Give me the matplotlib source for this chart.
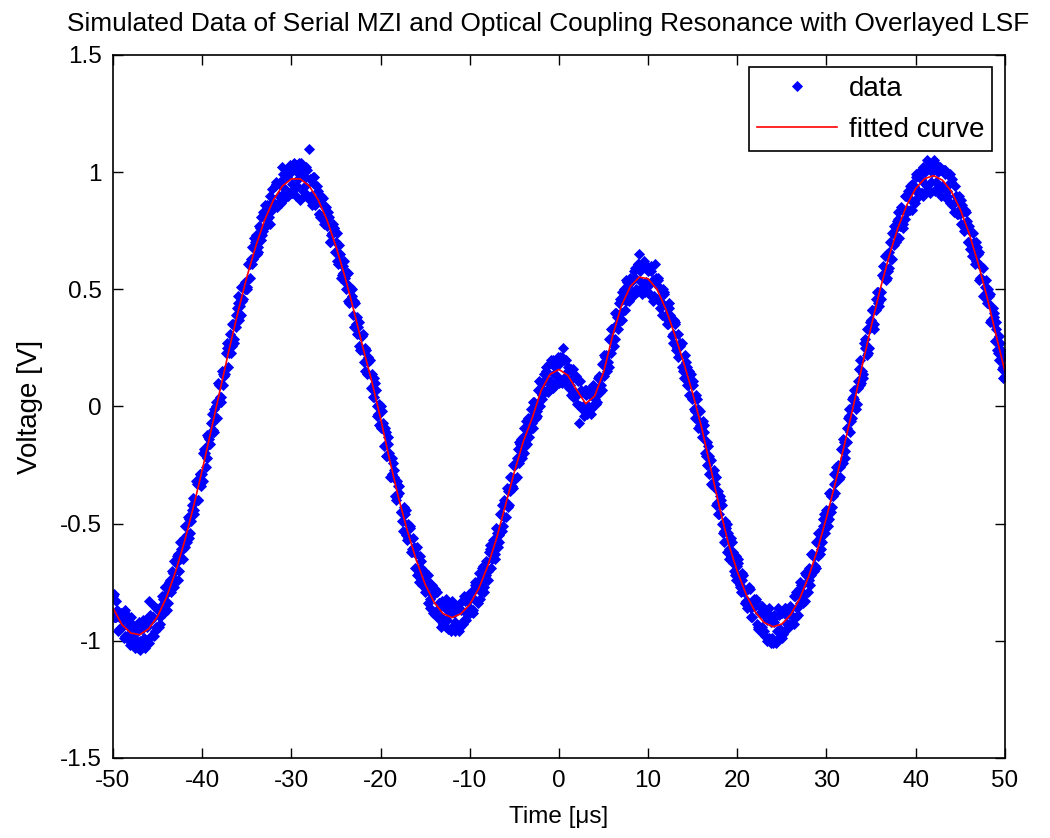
import numpy as np
import matplotlib.pyplot as plt

plt.rcParams['font.family'] = ['Liberation Sans', 'DejaVu Sans']

# sample times of the simulated data (three interleaved sweeps, 0.25 us apart each)
time_a = np.arange(-50, 50.01, 0.25)
time_b = np.arange(-49.875, 49.9, 0.25)
time_c = np.arange(-49.9375, 49.9, 0.25)

# simulated (noisy) voltage readings, sweep A
volt_a = [
    -0.81, -0.90, -0.87, -0.95, -0.91, -0.99, -0.91, -0.97, -1.01, -0.94, -1.03, -0.96,
    -1.04, -0.95, -0.99, -0.92, -0.83, -0.98, -0.90, -0.96, -0.87, -0.90, -0.81, -0.88,
    -0.80, -0.75, -0.79, -0.71, -0.74, -0.63, -0.65, -0.58, -0.56, -0.58, -0.48, -0.49,
    -0.39, -0.40, -0.40, -0.29, -0.29, -0.18, -0.22, -0.14, -0.07, -0.10, 0.00, 0.02,
    0.04, 0.15, 0.13, 0.25, 0.25, 0.23, 0.35, 0.34, 0.44, 0.43, 0.45, 0.53,
    0.51, 0.61, 0.63, 0.63, 0.73, 0.68, 0.76, 0.73, 0.82, 0.86, 0.81, 0.87,
    0.86, 0.95, 0.87, 0.96, 1.02, 0.93, 1.00, 0.91, 1.00, 0.93, 1.03, 0.97,
    0.88, 1.01, 0.94, 1.01, 1.10, 0.90, 0.95, 0.88, 0.92, 0.81, 0.86, 0.85,
    0.77, 0.81, 0.73, 0.76, 0.70, 0.61, 0.65, 0.57, 0.55, 0.57, 0.44, 0.47,
    0.45, 0.35, 0.34, 0.24, 0.24, 0.25, 0.14, 0.20, 0.14, 0.04, 0.07, -0.03,
    -0.09, -0.07, -0.09, -0.21, -0.20, -0.29, -0.27, -0.40, -0.34, -0.45, -0.45, -0.46,
    -0.57, -0.52, -0.61, -0.60, -0.63, -0.72, -0.66, -0.74, -0.79, -0.74, -0.82, -0.80,
    -0.80, -0.89, -0.84, -0.90, -0.93, -0.86, -0.91, -0.85, -0.94, -0.88, -0.95, -0.86,
    -0.87, -0.93, -0.83, -0.88, -0.88, -0.79, -0.82, -0.77, -0.76, -0.79, -0.68, -0.74,
    -0.70, -0.61, -0.65, -0.57, -0.52, -0.55, -0.46, -0.51, -0.41, -0.43, -0.30, -0.34,
    -0.31, -0.22, -0.24, -0.14, -0.13, -0.17, -0.05, -0.09, -0.07, 0.02, -0.02, 0.07,
    0.10, 0.07, 0.15, 0.11, 0.11, 0.18, 0.14, 0.20, 0.18, 0.11, 0.25, 0.12,
    0.17, 0.09, 0.12, 0.05, 0.05, -0.07, 0.07, 0.00, 0.05, -0.01, 0.05, 0.00,
    0.07, 0.05, 0.13, 0.09, 0.13, 0.22, 0.19, 0.29, 0.33, 0.29, 0.38, 0.44,
    0.40, 0.50, 0.45, 0.52, 0.55, 0.49, 0.59, 0.49, 0.65, 0.53, 0.60, 0.51,
    0.58, 0.48, 0.54, 0.61, 0.46, 0.51, 0.44, 0.48, 0.43, 0.35, 0.39, 0.31,
    0.35, 0.25, 0.26, 0.17, 0.17, 0.19, 0.09, 0.11, 0.09, -0.02, 0.03, -0.06,
    -0.13, -0.11, -0.21, -0.17, -0.23, -0.34, -0.33, -0.41, -0.46, -0.42, -0.53, -0.52,
    -0.54, -0.64, -0.62, -0.72, -0.68, -0.77, -0.71, -0.79, -0.83, -0.78, -0.86, -0.83,
    -0.85, -0.93, -0.88, -0.94, -0.96, -0.90, -0.99, -0.92, -1.01, -0.90, -0.96, -0.99,
    -0.88, -0.96, -0.89, -0.93, -0.86, -0.90, -0.81, -0.86, -0.84, -0.76, -0.80, -0.72,
    -0.69, -0.72, -0.64, -0.68, -0.64, -0.56, -0.58, -0.46, -0.44, -0.48, -0.38, -0.38,
    -0.37, -0.25, -0.26, -0.18, -0.15, -0.15, -0.04, -0.06, 0.04, 0.01, 0.11, 0.09,
    0.15, 0.27, 0.22, 0.33, 0.37, 0.35, 0.46, 0.44, 0.46, 0.56, 0.55, 0.65,
    0.66, 0.63, 0.74, 0.70, 0.80, 0.77, 0.84, 0.80, 0.83, 0.92, 0.88, 0.94,
    0.98, 0.91, 0.99, 0.91, 1.00, 0.94, 1.03, 0.96, 1.03, 0.93, 1.00, 1.02,
    0.94, 0.99, 0.90, 0.95, 0.96, 0.87, 0.90, 0.82, 0.82, 0.86, 0.76, 0.79,
    0.77, 0.67, 0.70, 0.62, 0.65, 0.55, 0.59, 0.48, 0.44, 0.47, 0.37, 0.38,
    0.33, 0.23, 0.27, 0.17, 0.13,
]

# sweep B, shifted by 0.125 us
volt_b = [
    -0.90, -0.83, -0.95, -0.88, -0.89, -0.98, -0.89, -1.02, -0.93, -1.02, -0.95, -0.92,
    -0.94, -1.01, -0.91, -1.01, -0.89, -0.90, -0.98, -0.86, -0.94, -0.85, -0.88, -0.77,
    -0.84, -0.74, -0.70, -0.77, -0.64, -0.70, -0.61, -0.65, -0.60, -0.47, -0.54, -0.42,
    -0.46, -0.33, -0.31, -0.34, -0.20, -0.26, -0.13, -0.16, -0.03, -0.01, -0.05, 0.09,
    0.04, 0.09, 0.23, 0.17, 0.31, 0.26, 0.29, 0.42, 0.37, 0.51, 0.46, 0.50,
    0.61, 0.55, 0.68, 0.70, 0.65, 0.77, 0.71, 0.83, 0.77, 0.78, 0.90, 0.84,
    0.94, 0.85, 0.95, 0.87, 0.91, 1.00, 0.90, 1.02, 0.91, 1.02, 0.94, 1.04,
    1.01, 0.90, 1.02, 0.90, 0.88, 0.98, 0.86, 0.94, 0.82, 0.90, 0.78, 0.85,
    0.83, 0.70, 0.78, 0.66, 0.62, 0.69, 0.56, 0.62, 0.50, 0.45, 0.51, 0.39,
    0.44, 0.31, 0.36, 0.30, 0.19, 0.24, 0.21, 0.08, 0.04, 0.10, -0.04, 0.01,
    -0.02, -0.17, -0.11, -0.16, -0.30, -0.24, -0.38, -0.32, -0.37, -0.49, -0.43, -0.55,
    -0.50, -0.62, -0.56, -0.69, -0.72, -0.64, -0.76, -0.70, -0.72, -0.84, -0.76, -0.88,
    -0.89, -0.79, -0.91, -0.83, -0.84, -0.94, -0.84, -0.96, -0.84, -0.96, -0.85, -0.94,
    -0.83, -0.91, -0.91, -0.80, -0.79, -0.87, -0.76, -0.84, -0.82, -0.69, -0.77, -0.66,
    -0.62, -0.69, -0.57, -0.63, -0.60, -0.46, -0.53, -0.40, -0.35, -0.42, -0.30, -0.35,
    -0.31, -0.18, -0.16, -0.22, -0.09, -0.16, -0.13, -0.01, -0.09, -0.05, 0.07, 0.00,
    0.03, 0.14, 0.07, 0.18, 0.09, 0.20, 0.10, 0.21, 0.21, 0.10, 0.20, 0.09,
    0.08, 0.16, 0.04, 0.13, 0.11, 0.00, -0.01, 0.07, -0.03, 0.07, -0.01, 0.09,
    0.01, 0.12, 0.06, 0.18, 0.21, 0.15, 0.29, 0.23, 0.26, 0.40, 0.33, 0.37,
    0.49, 0.41, 0.53, 0.45, 0.47, 0.58, 0.50, 0.61, 0.50, 0.61, 0.49, 0.60,
    0.48, 0.58, 0.47, 0.55, 0.54, 0.42, 0.50, 0.38, 0.35, 0.42, 0.30, 0.37,
    0.24, 0.31, 0.27, 0.15, 0.22, 0.09, 0.15, 0.03, -0.01, 0.05, -0.09, -0.02,
    -0.06, -0.20, -0.15, -0.29, -0.33, -0.27, -0.42, -0.36, -0.40, -0.54, -0.49, -0.62,
    -0.65, -0.58, -0.70, -0.64, -0.67, -0.79, -0.72, -0.84, -0.86, -0.78, -0.90, -0.82,
    -0.83, -0.94, -0.86, -0.97, -0.87, -1.00, -0.89, -0.99, -0.89, -1.00, -0.89, -0.98,
    -0.97, -0.86, -0.95, -0.85, -0.93, -0.81, -0.90, -0.78, -0.76, -0.84, -0.71, -0.79,
    -0.76, -0.63, -0.70, -0.58, -0.54, -0.61, -0.48, -0.54, -0.51, -0.37, -0.43, -0.29,
    -0.26, -0.31, -0.18, -0.24, -0.19, -0.05, -0.11, 0.03, 0.07, 0.01, 0.16, 0.10,
    0.14, 0.29, 0.23, 0.36, 0.41, 0.35, 0.49, 0.43, 0.46, 0.60, 0.54, 0.58,
    0.70, 0.63, 0.77, 0.79, 0.72, 0.85, 0.78, 0.90, 0.92, 0.84, 0.95, 0.87,
    0.89, 1.00, 0.91, 1.02, 0.92, 1.02, 0.92, 1.03, 0.92, 1.03, 0.92, 1.01,
    1.01, 0.89, 0.99, 0.87, 0.86, 0.94, 0.82, 0.90, 0.88, 0.75, 0.83, 0.70,
    0.67, 0.74, 0.61, 0.68, 0.54, 0.60, 0.47, 0.54, 0.50, 0.36, 0.42, 0.28,
    0.24, 0.30, 0.16, 0.21,
]

# sweep C, shifted by 0.0625 us
volt_c = [
    -0.80, -0.90, -0.96, -0.89, -0.94, -0.87, -0.99, -0.94, -0.90, -0.99, -0.94, -1.03,
    -1.00, -0.91, -1.03, -0.94, -1.01, -0.91, -0.85, -0.94, -0.87, -0.93, -0.82, -0.77,
    -0.87, -0.77, -0.77, -0.66, -0.67, -0.74, -0.58, -0.61, -0.51, -0.55, -0.56, -0.44,
    -0.44, -0.32, -0.40, -0.29, -0.32, -0.20, -0.12, -0.16, -0.07, -0.11, 0.02, 0.10,
    0.02, 0.14, 0.14, 0.27, 0.23, 0.35, 0.27, 0.39, 0.47, 0.39, 0.51, 0.50,
    0.50, 0.61, 0.61, 0.72, 0.71, 0.66, 0.81, 0.75, 0.86, 0.80, 0.78, 0.93,
    0.87, 0.96, 0.90, 0.96, 0.99, 0.89, 0.98, 1.03, 0.95, 1.04, 0.90, 0.99,
    1.04, 0.92, 0.98, 0.89, 0.97, 0.86, 0.98, 0.87, 0.82, 0.88, 0.89, 0.79,
    0.81, 0.70, 0.74, 0.76, 0.74, 0.62, 0.55, 0.60, 0.53, 0.57, 0.45, 0.50,
    0.34, 0.38, 0.26, 0.30, 0.31, 0.15, 0.19, 0.20, 0.08, 0.12, 0.00, -0.08,
    0.00, -0.09, -0.21, -0.13, -0.30, -0.22, -0.30, -0.38, -0.34, -0.45, -0.53, -0.44,
    -0.56, -0.51, -0.62, -0.61, -0.60, -0.75, -0.69, -0.76, -0.78, -0.72, -0.86, -0.76,
    -0.78, -0.87, -0.84, -0.94, -0.91, -0.82, -0.95, -0.88, -0.83, -0.92, -0.87, -0.96,
    -0.93, -0.81, -0.88, -0.83, -0.86, -0.88, -0.75, -0.77, -0.71, -0.73, -0.79, -0.72,
    -0.74, -0.59, -0.60, -0.65, -0.54, -0.58, -0.42, -0.47, -0.47, -0.36, -0.36, -0.25,
    -0.25, -0.30, -0.15, -0.19, -0.20, -0.06, -0.11, -0.05, 0.02, -0.03, -0.04, 0.11,
    0.05, 0.11, 0.17, 0.06, 0.20, 0.08, 0.17, 0.13, 0.10, 0.21, 0.12, 0.20,
    0.15, 0.05, 0.16, 0.06, 0.01, 0.11, 0.06, -0.04, 0.07, 0.00, -0.03, 0.06,
    0.03, 0.02, 0.12, 0.07, 0.22, 0.17, 0.17, 0.33, 0.29, 0.40, 0.35, 0.46,
    0.37, 0.47, 0.54, 0.48, 0.53, 0.47, 0.55, 0.61, 0.58, 0.48, 0.62, 0.53,
    0.52, 0.60, 0.45, 0.53, 0.55, 0.45, 0.39, 0.49, 0.39, 0.44, 0.37, 0.27,
    0.36, 0.21, 0.26, 0.27, 0.12, 0.17, 0.05, 0.14, 0.11, -0.05, -0.01, -0.08,
    -0.08, -0.08, -0.25, -0.21, -0.33, -0.29, -0.30, -0.46, -0.38, -0.50, -0.58, -0.50,
    -0.61, -0.56, -0.67, -0.74, -0.65, -0.76, -0.74, -0.84, -0.83, -0.77, -0.90, -0.84,
    -0.82, -0.95, -0.88, -0.85, -0.98, -0.91, -0.86, -1.01, -0.92, -1.01, -0.86, -0.95,
    -0.99, -0.86, -0.93, -0.88, -0.86, -0.93, -0.79, -0.89, -0.75, -0.81, -0.83, -0.72,
    -0.74, -0.63, -0.64, -0.69, -0.54, -0.63, -0.51, -0.52, -0.49, -0.37, -0.45, -0.33,
    -0.26, -0.30, -0.30, -0.14, -0.22, -0.09, -0.01, -0.05, 0.03, -0.01, 0.08, 0.20,
    0.12, 0.25, 0.33, 0.25, 0.41, 0.33, 0.41, 0.49, 0.49, 0.56, 0.64, 0.55,
    0.59, 0.74, 0.69, 0.76, 0.83, 0.77, 0.76, 0.90, 0.84, 0.94, 0.84, 0.94,
    0.99, 0.92, 0.97, 0.90, 0.95, 1.05, 0.91, 1.00, 1.05, 0.96, 1.01, 0.90,
    0.94, 1.01, 0.92, 0.99, 0.97, 0.83, 0.90, 0.84, 0.78, 0.83, 0.84, 0.70,
    0.75, 0.64, 0.69, 0.70, 0.66, 0.55, 0.47, 0.51, 0.44, 0.48, 0.36, 0.40,
    0.36, 0.20, 0.24, 0.12,
]

# least-squares fitted curve, one value per microsecond
fit_time = list(range(-50, 51))
fit_volt = [
    -0.860, -0.931, -0.967, -0.974, -0.949, -0.896, -0.814, -0.707, -0.579, -0.432,
    -0.272, -0.103, 0.069, 0.239, 0.401, 0.551, 0.683, 0.795, 0.882, 0.941,
    0.971, 0.971, 0.941, 0.882, 0.795, 0.683, 0.555, 0.410, 0.255, 0.110,
    -0.050, -0.225, -0.387, -0.530, -0.655, -0.759, -0.835, -0.884, -0.901, -0.885,
    -0.845, -0.778, -0.683, -0.564, -0.422, -0.280, -0.150, -0.050, 0.068, 0.137,
    0.158, 0.133, 0.070, 0.012, 0.044, 0.145, 0.298, 0.429, 0.512, 0.552,
    0.545, 0.500, 0.414, 0.305, 0.186, 0.056, -0.090, -0.260, -0.430, -0.584,
    -0.704, -0.803, -0.876, -0.922, -0.940, -0.928, -0.888, -0.820, -0.726, -0.610,
    -0.474, -0.325, -0.165, 0.000, 0.173, 0.340, 0.497, 0.639, 0.761, 0.859,
    0.930, 0.972, 0.985, 0.966, 0.918, 0.841, 0.738, 0.612, 0.467, 0.307,
    0.150,
]

x_ticks = [-50, -40, -30, -20, -10, 0, 10, 20, 30, 40, 50]
y_ticks = [-1.5, -1, -0.5, 0, 0.5, 1, 1.5]
y_tick_labels = ['-1.5', '-1', '-0.5', '0', '0.5', '1', '1.5']

data_time = np.concatenate([time_a, time_b, time_c])
data_volt = volt_a + volt_b + volt_c

fig = plt.figure(figsize=(10.5, 8.38), dpi=100)
ax = fig.add_axes([0.1076, 0.0955, 0.8494, 0.8389])

ax.plot(data_time, data_volt, linestyle='none', marker='D', markersize=5.0,
        color='#0000ff', markeredgewidth=0.6, label='data')
ax.plot(fit_time, fit_volt, color='#ff0000', linewidth=1.2, label='fitted curve')

ax.set_xlim(-50, 50)
ax.set_ylim(-1.5, 1.5)
ax.set_xticks(x_ticks)
ax.set_xticklabels([str(t) for t in x_ticks])
ax.set_yticks(y_ticks)
ax.set_yticklabels(y_tick_labels)
ax.tick_params(direction='in', length=7, width=1, top=True, right=True,
               labelsize=17.5)
ax.tick_params(axis='x', pad=9)
ax.tick_params(axis='y', pad=8)
for side in ax.spines.values():
    side.set_linewidth(1.2)

ax.set_title('Simulated Data of Serial MZI and Optical Coupling Resonance with Overlayed LSF',
             fontsize=18.9, pad=17, x=0.488)
ax.set_xlabel('Time [\u03bcs]', fontsize=17.5, labelpad=10)
ax.set_ylabel('Voltage [V]', fontsize=20, labelpad=12)

leg = ax.legend(loc='upper right', fontsize=20, frameon=True, fancybox=False,
                framealpha=1, edgecolor='black', handlelength=2.9,
                handletextpad=0.4, borderaxespad=0.45, labelspacing=0.55,
                borderpad=0.3)
leg.get_frame().set_linewidth(1.2)

fig.savefig('out.png', dpi=100)
